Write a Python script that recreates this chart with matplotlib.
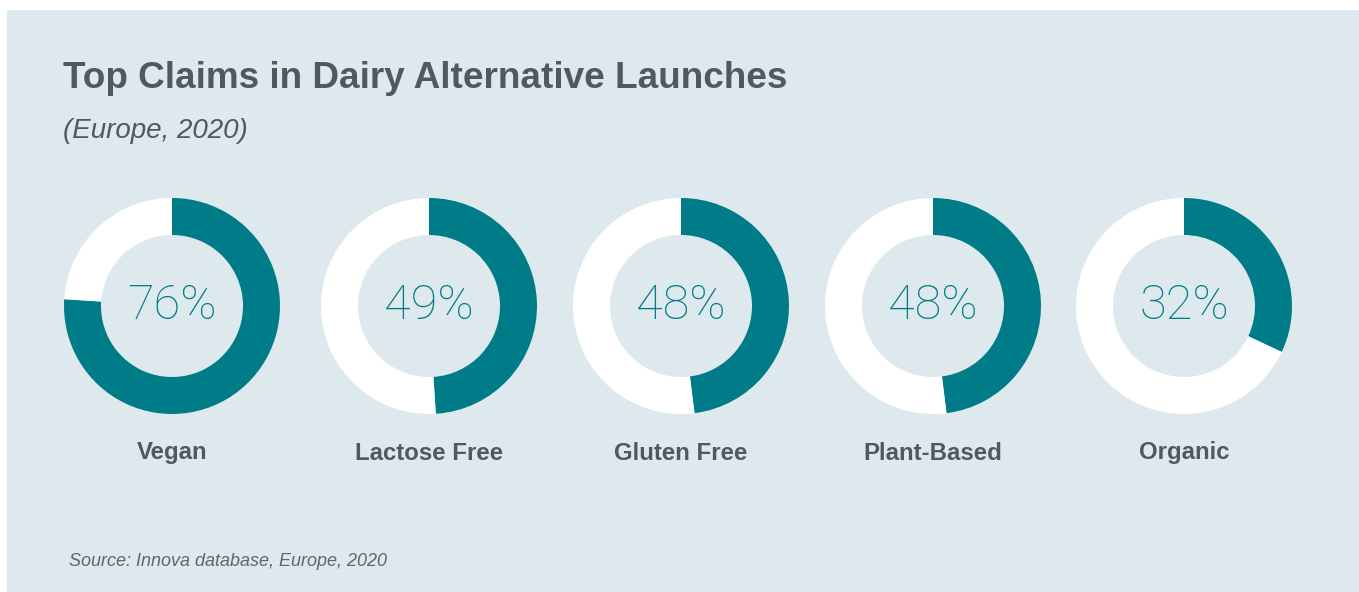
import matplotlib
matplotlib.use("Agg")
import matplotlib.pyplot as plt
from matplotlib.patches import Rectangle

categories = ["Vegan", "Lactose Free", "Gluten Free", "Plant-Based", "Organic"]
values = [76, 49, 48, 48, 32]

W, H = 1359, 592
fig = plt.figure(figsize=(W / 100, H / 100), dpi=100)
fig.patch.set_facecolor("white")
bg = "#dde9ed"
teal = "#007c89"
dark = "#53575e"

bgax = fig.add_axes([0, 0, 1, 1], zorder=-10)
bgax.set_xlim(0, W)
bgax.set_ylim(H, 0)
bgax.axis("off")
bgax.add_patch(Rectangle((7, 10), W - 7, H - 10, facecolor=bg, edgecolor="none"))

fig.text(63 / W, 1 - 79 / H, "Top Claims in Dairy Alternative Launches", fontsize=26.6,
         fontweight="bold", color=dark, va="center", ha="left", family="Liberation Sans")
fig.text(63 / W, 1 - 131 / H, "(Europe, 2020)", fontsize=20, style="italic",
         color=dark, va="center", ha="left", family="Liberation Sans")
fig.text(69 / W, 1 - 562 / H, "Source: Innova database, Europe, 2020", fontsize=13,
         style="italic", color="#62666c", va="center", ha="left", family="Liberation Sans")

centers = [172, 429, 681, 933, 1184]
cy = 306
R = 108
r_in = 71
for cx, cat, v in zip(centers, categories, values):
    ax = fig.add_axes([(cx - R) / W, (H - cy - R) / H, 2 * R / W, 2 * R / H], zorder=1)
    ax.pie([v, 100 - v], colors=[teal, "white"], startangle=90, counterclock=False,
           radius=1.0, wedgeprops=dict(width=(R - r_in) / R, edgecolor="none"))
    ax.set_xlim(-1, 1)
    ax.set_ylim(-1, 1)
    ax.set_aspect("equal")
    ax.axis("off")
    ax.text(0, 0, f"{v}%", ha="center", va="center", fontsize=35, color=teal,
            family="Roboto", fontweight="light")
    fig.text(cx / W, 1 - 453 / H, cat, ha="center", va="center", fontsize=17.3,
             fontweight="bold", color=dark, family="Liberation Sans")

fig.savefig("out.png", dpi=100, facecolor=fig.get_facecolor())
